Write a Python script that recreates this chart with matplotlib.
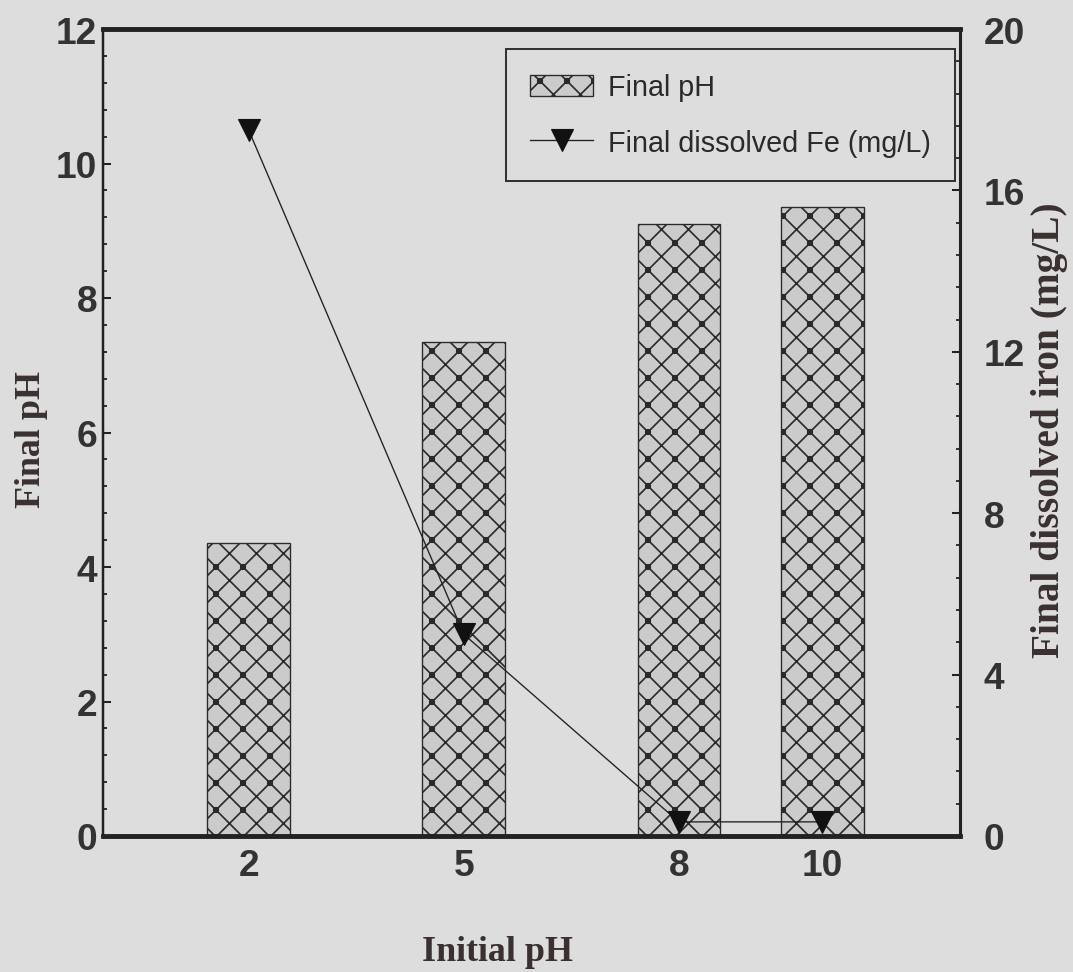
import numpy as np
import matplotlib
matplotlib.use("Agg")
import matplotlib.pyplot as plt
import matplotlib.hatch as mhatch
from matplotlib.path import Path
from matplotlib.ticker import MultipleLocator

# ---------------- data ----------------
initial_ph = [2, 5, 8, 10]
x_ticklabels = ["2", "5", "8", "10"]
final_ph = [4.35, 7.35, 9.1, 9.35]
final_fe = [17.5, 5.0, 0.35, 0.35]

bar_label = "Final pH"
line_label = "Final dissolved Fe (mg/L)"
xlabel = "Initial pH"
ylabel_left = "Final pH"
ylabel_right = "Final dissolved iron (mg/L)"


# ------------- hatch with dots at the cross-hatch intersections -------------
class DiamondDots(mhatch.HatchPatternBase):
    radius = 0.028

    def __init__(self, hatch, density):
        n = hatch.count(".")
        circ = Path.unit_circle()
        self._cv = circ.vertices
        self._cc = circ.codes
        pts = []
        if n:
            step = 2.0 / density
            k = int(round(1 / step))
            for j in range(k + 1):
                for i in range(k + 1):
                    pts.append((i * step, j * step))
        self._pts = pts
        self.num_vertices = len(pts) * len(self._cv)

    def set_vertices_and_codes(self, vertices, codes):
        vertices[:] = np.concatenate([self._cv * self.radius + np.array(p)
                                      for p in self._pts])
        codes[:] = np.tile(self._cc, len(self._pts))


mhatch._hatch_types = [DiamondDots if t is mhatch.SmallFilledCircles else t
                       for t in mhatch._hatch_types]

# ---------------- style ----------------
DPI = 81
W, H = 1073, 973
BG = "#dddddd"
BARC = "#cbcbcb"
DARK = "#222222"
TXT = "#333333"

plt.rcParams["font.family"] = ["Liberation Sans", "DejaVu Sans"]
plt.rcParams["font.weight"] = "bold"
plt.rcParams["hatch.linewidth"] = 1.5

fig = plt.figure(figsize=(W / DPI, H / DPI), dpi=DPI, facecolor=BG)
ax = fig.add_axes([103 / W, 1 - 837 / H, (960 - 103) / W, (837 - 30) / H])
ax.set_facecolor(BG)
ax2 = ax.twinx()

bars = ax.bar(initial_ph, final_ph, width=1.15, color=BARC,
              edgecolor="#2a2a2a", linewidth=1.2, hatch="x.",
              label=bar_label, zorder=2)

line, = ax2.plot(initial_ph, final_fe, color=DARK, lw=1.2, marker="v",
                 ms=19, mfc="#111111", mec="#111111", label=line_label,
                 zorder=3)

ax.set_xlim(-0.03, 11.92)
ax.set_ylim(0, 12)
ax2.set_ylim(0, 20)

ax.set_xticks(initial_ph)
ax.set_xticklabels(x_ticklabels)
ax.tick_params(axis="x", length=0, pad=11, labelsize=33, labelcolor=TXT)

ax.yaxis.set_major_locator(MultipleLocator(2))
ax.yaxis.set_minor_locator(MultipleLocator(0.4))
ax.tick_params(axis="y", which="major", direction="in", length=7, width=1.8,
               color=DARK, labelsize=33, labelcolor=TXT, pad=5)
ax.tick_params(axis="y", which="minor", direction="in", length=3.5,
               width=1.6, color=DARK)

ax2.yaxis.set_major_locator(MultipleLocator(4))
ax2.yaxis.set_minor_locator(MultipleLocator(0.8))
ax2.tick_params(axis="y", which="major", direction="in", length=7, width=1.8,
                color=DARK, labelsize=33, labelcolor=TXT, pad=21)
ax2.tick_params(axis="y", which="minor", direction="in", length=3.5,
                width=1.6, color=DARK)

for a in (ax, ax2):
    a.spines["top"].set_linewidth(4)
    a.spines["bottom"].set_linewidth(4)
    a.spines["left"].set_linewidth(2)
    a.spines["right"].set_linewidth(2.7)
    for s in a.spines.values():
        s.set_color(DARK)

serif = ["Liberation Serif", "DejaVu Serif"]
ax.set_xlabel(xlabel, fontfamily=serif, fontsize=32, fontweight="bold",
              color="#3a3030")
ax.xaxis.set_label_coords((497 - 103) / 857, -0.143)
ax.xaxis.label.set_va("center")

ax.set_ylabel(ylabel_left, fontfamily=serif, fontsize=32, fontweight="bold",
              color="#3a3030")
ax.yaxis.set_label_coords(-0.084, 0.492)
ax.yaxis.label.set_va("center")

ax2.set_ylabel(ylabel_right, fontfamily=serif, fontsize=35,
               fontweight="bold", color="#3a3030", rotation=90)
ax2.yaxis.set_label_coords((1049 - 103) / 857, 0.504)
ax2.yaxis.label.set_va("center")

leg = ax2.legend(handles=[bars, line], labels=[bar_label, line_label],
                 loc="upper left",
                 bbox_to_anchor=((506 - 103) / 857, (837 - 50) / 807),
                 bbox_transform=ax2.transAxes, borderaxespad=0,
                 prop=dict(family=["Liberation Sans", "DejaVu Sans"],
                           size=25.5, weight="normal"),
                 handlelength=2.2, handleheight=0.73, handletextpad=0.5,
                 borderpad=0.85, labelspacing=0.95, fancybox=False,
                 framealpha=1, facecolor=BG, edgecolor="#333333")
leg.get_frame().set_linewidth(1.8)
for t in leg.get_texts():
    t.set_color("#2a2a2a")

fig.savefig("out.png", dpi=DPI, facecolor=BG)
